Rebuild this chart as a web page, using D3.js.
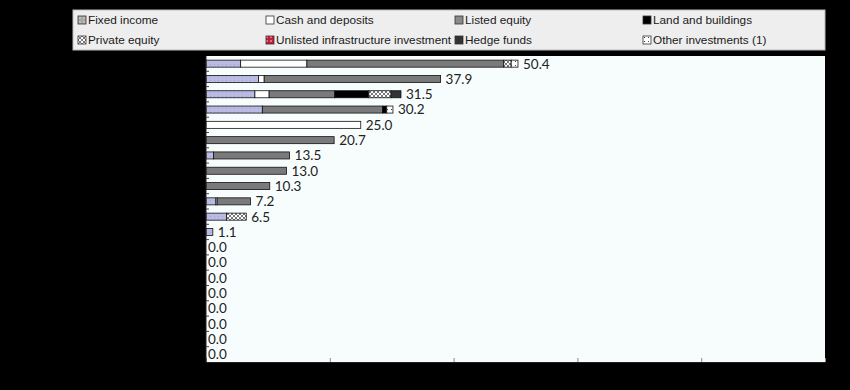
<!DOCTYPE html>
<html>
<head>
<meta charset="utf-8">
<script src="https://cdn.jsdelivr.net/npm/d3@7/dist/d3.min.js"></script>
<style>
  body { margin: 0; background: #000; }
  svg { display: block; }
</style>
</head>
<body>
<div id="chart"></div>
<script>
// series in stacking order
const seriesNames = ["Fixed income", "Cash and deposits", "Listed equity", "Land and buildings",
                     "Private equity", "Unlisted infrastructure investment", "Hedge funds", "Other investments (1)"];

// one value per row (top to bottom), per series
const fixedIncome   = [5.6, 8.5, 7.9, 9.1, 0, 0,   1.2, 0,    0,    1.6, 3.3, 1.1, 0, 0, 0, 0, 0, 0, 0, 0];
const cashDeposits  = [10.7, 0.9, 2.3, 0, 25.0, 0, 0,   0,    0,    0.2, 0,   0,   0, 0, 0, 0, 0, 0, 0, 0];
const listedEquity  = [31.8, 28.5, 10.6, 19.4, 0, 20.7, 12.3, 13.0, 10.3, 5.4, 0, 0, 0, 0, 0, 0, 0, 0, 0, 0];
const landBuildings = [0,   0,   5.5, 0.7, 0, 0,   0,   0,    0,    0,   0,   0,   0, 0, 0, 0, 0, 0, 0, 0];
const privateEquity = [1.2, 0,   3.6, 0,   0, 0,   0,   0,    0,    0,   3.2, 0,   0, 0, 0, 0, 0, 0, 0, 0];
const unlistedInfra = [0,   0,   0,   0,   0, 0,   0,   0,    0,    0,   0,   0,   0, 0, 0, 0, 0, 0, 0, 0];
const hedgeFunds    = [0,   0,   1.6, 0,   0, 0,   0,   0,    0,    0,   0,   0,   0, 0, 0, 0, 0, 0, 0, 0];
const otherInv      = [1.1, 0,   0,   1.0, 0, 0,   0,   0,    0,    0,   0,   0,   0, 0, 0, 0, 0, 0, 0, 0];

const totals = [50.4, 37.9, 31.5, 30.2, 25.0, 20.7, 13.5, 13.0, 10.3, 7.2, 6.5, 1.1, 0, 0, 0, 0, 0, 0, 0, 0];
const xTicks = [0, 20, 40, 60, 80, 100];

const seriesValues = [fixedIncome, cashDeposits, listedEquity, landBuildings,
                      privateEquity, unlistedInfra, hedgeFunds, otherInv];

const width = 850, height = 390;
const margin = {top: 56, right: 25, bottom: 28, left: 206};

const svg = d3.select("#chart").append("svg")
    .attr("width", width)
    .attr("height", height);

svg.append("rect").attr("width", width).attr("height", height).attr("fill", "#000");

// patterns for the hatched series
const defs = svg.append("defs");
function pattern(id, bg, draw) {
    const p = defs.append("pattern").attr("id", id)
        .attr("patternUnits", "userSpaceOnUse").attr("width", 4).attr("height", 4);
    p.append("rect").attr("width", 4).attr("height", 4).attr("fill", bg);
    draw(p);
}
pattern("pFixed", "#b9bbe3", p => p.append("rect").attr("x", 0).attr("y", 0).attr("width", 1).attr("height", 1).attr("fill", "#9fa2cf"));
pattern("pPrivate", "#ffffff", p => {
    p.append("path").attr("d", "M0,0L4,4M4,0L0,4").attr("stroke", "#555").attr("stroke-width", 0.8);
});
pattern("pInfra", "#c0203a", p => p.append("rect").attr("width", 2).attr("height", 2).attr("fill", "#e07080"));
pattern("pOther", "#ffffff", p => p.append("rect").attr("x", 1).attr("y", 1).attr("width", 1).attr("height", 1).attr("fill", "#444"));
pattern("pFixedLeg", "#a8a8a8", p => p.append("rect").attr("x", 1).attr("y", 1).attr("width", 2).attr("height", 2).attr("fill", "#bdbdbd"));

const fills = ["url(#pFixed)", "#ffffff", "#7a7a7a", "#000000",
               "url(#pPrivate)", "url(#pInfra)", "#333333", "url(#pOther)"];
const legendFills = ["url(#pFixedLeg)", "#ffffff", "#8a8a8a", "#000000",
                     "url(#pPrivate)", "url(#pInfra)", "#333333", "url(#pOther)"];

// legend
const legend = svg.append("g");
legend.append("rect")
    .attr("x", 73).attr("y", 10).attr("width", 752).attr("height", 40)
    .attr("fill", "#eeeeee").attr("stroke", "#bbb");
const legendX = [78, 266, 455, 643];
seriesNames.forEach((name, i) => {
    const col = i % 4, row = Math.floor(i / 4);
    const g = legend.append("g")
        .attr("transform", `translate(${legendX[col]},${20 + row * 20})`);
    g.append("rect").attr("x", 0).attr("y", -4).attr("width", 8).attr("height", 8)
        .attr("fill", legendFills[i]).attr("stroke", "#333").attr("stroke-width", 0.8);
    g.append("text").attr("x", 10).attr("y", 0).attr("dy", "0.35em")
        .attr("font-family", "Liberation Sans, Arial, sans-serif")
        .attr("font-size", 11.8).attr("fill", "#1a1a1a").text(name);
});

// plot
const plotW = width - margin.left - margin.right;
const plotH = 306;
const rows = d3.range(totals.length);

const x = d3.scaleLinear().domain([0, 100]).range([0, plotW]);
const y = d3.scaleBand().domain(rows).range([0, plotH]).paddingInner(0.54).paddingOuter(0.27);

const plot = svg.append("g").attr("transform", `translate(${margin.left},${margin.top})`);
plot.append("rect").attr("width", plotW).attr("height", plotH).attr("fill", "#f7fdfd");

// stacked segments
const stackData = rows.map(r => {
    const o = {row: r};
    seriesNames.forEach((n, i) => o[n] = seriesValues[i][r]);
    return o;
});
const stacked = d3.stack().keys(seriesNames)(stackData);

plot.selectAll("g.series")
    .data(stacked)
    .enter().append("g")
    .attr("class", "series")
    .attr("fill", (d, i) => fills[i])
    .selectAll("rect")
    .data(d => d.filter(s => s[1] - s[0] > 0))
    .enter().append("rect")
    .attr("x", d => x(d[0]))
    .attr("y", d => y(d.data.row))
    .attr("width", d => x(d[1]) - x(d[0]))
    .attr("height", y.bandwidth())
    .attr("stroke", "#111")
    .attr("stroke-width", 0.8);

// totals
plot.selectAll("text.total")
    .data(totals)
    .enter().append("text")
    .attr("class", "total")
    .attr("x", d => x(d) + (d > 0 ? 5 : 2))
    .attr("y", (d, i) => y(i) + y.bandwidth() / 2)
    .attr("dy", "0.36em")
    .attr("font-family", "Lato, Open Sans, sans-serif")
    .attr("font-size", 13.5)
    .attr("fill", "#222")
    .text(d => d.toFixed(1));

// axes
const xAxis = plot.append("g")
    .attr("transform", `translate(0,${plotH})`)
    .call(d3.axisBottom(x).tickValues(xTicks).tickSizeInner(-4).tickSizeOuter(0));
xAxis.select(".domain").attr("stroke", "#222");
xAxis.selectAll(".tick line").attr("stroke", "#888");
xAxis.selectAll(".tick text").attr("fill", "#000").attr("dy", "1.4em");

// category axis: line plus small inward ticks at the row boundaries
plot.append("line").attr("x1", 0).attr("x2", 0).attr("y1", 0).attr("y2", plotH).attr("stroke", "#222");
plot.selectAll("line.rowtick")
    .data(rows.slice(1))
    .enter().append("line")
    .attr("class", "rowtick")
    .attr("x1", 0).attr("x2", 3)
    .attr("y1", r => y(r) - y.step() * y.paddingInner() / 2)
    .attr("y2", r => y(r) - y.step() * y.paddingInner() / 2)
    .attr("stroke", "#444");
</script>
</body>
</html>
